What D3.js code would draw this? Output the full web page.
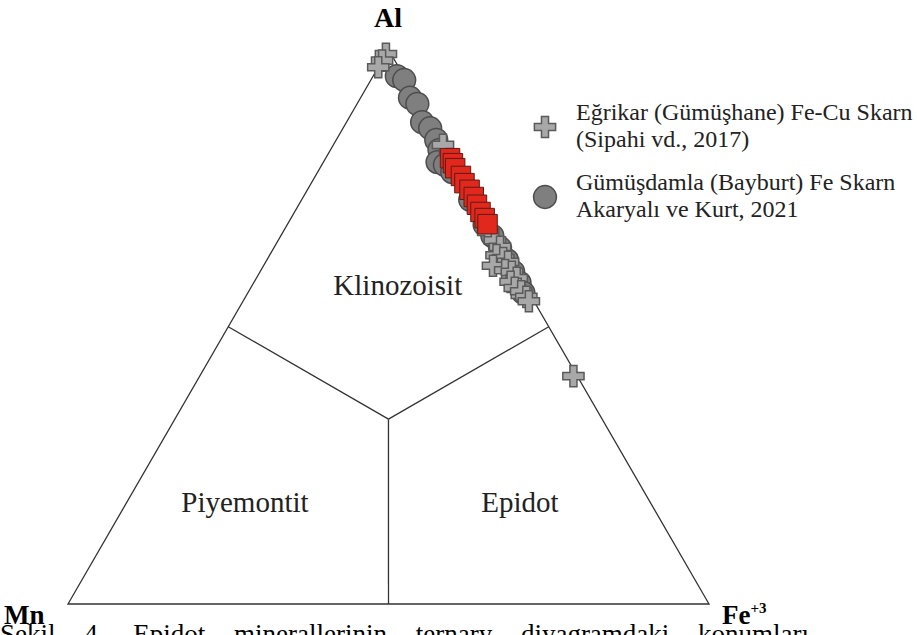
<!DOCTYPE html>
<html>
<head>
<meta charset="utf-8">
<script src="https://cdn.jsdelivr.net/npm/d3@7"></script>
<style>
  body { margin: 0; background: #fff; }
  svg text { font-family: "Liberation Serif", serif; }
</style>
</head>
<body>
<div id="chart"></div>
<script>
"use strict";

// compositions in % : [Al, Fe+3, Mn]
const egrikar = [
  [99.2, 0, 0.8], [98.0, 0, 2.0], [96.8, 0, 3.2], [82.8, 17.1, 0.1],
  [67.1, 32.0, 0.9], [65.6, 33.8, 0.6], [64.4, 35.2, 0.4], [62.9, 35.4, 1.7],
  [62.4, 36.7, 0.9], [61.7, 37.8, 0.5], [61.0, 35.8, 3.2], [60.2, 38.1, 1.7],
  [59.9, 39.3, 0.8], [58.8, 40.6, 0.6], [58.1, 40.0, 1.9], [57.0, 41.2, 1.8],
  [56.4, 42.5, 1.1], [55.4, 43.8, 0.8], [54.6, 44.6, 0.8], [41.1, 58.3, 0.6]
];

const gumusdamla = [
  [95.2, 3.7, 1.1], [94.5, 5.2, 0.3], [91.3, 7.7, 1.0], [90.2, 9.4, 0.4],
  [86.9, 11.8, 1.3], [85.8, 13.6, 0.6], [83.7, 15.6, 0.7], [81.9, 17.0, 1.1],
  [79.7, 17.8, 2.5], [79.2, 19.2, 1.6], [77.9, 21.0, 1.1], [72.9, 26.3, 0.8],
  [68.4, 30.8, 0.8], [66.4, 33.0, 0.6], [64.2, 35.3, 0.5], [62.0, 37.5, 0.5],
  [59.9, 39.5, 0.6], [57.9, 41.5, 0.6], [56.1, 43.0, 0.9]
];

const redSamples = [
  [80.4, 19.4, 0.2], [79.5, 20.3, 0.2], [78.6, 21.1, 0.3], [77.2, 22.7, 0.1],
  [75.9, 23.9, 0.2], [74.7, 25.3, 0.0], [73.4, 26.6, 0.0], [72.0, 27.8, 0.2],
  [70.7, 29.0, 0.3], [69.6, 30.2, 0.2], [68.5, 31.2, 0.3]
];

// field boundaries: centroid to side midpoints
const centroid = [33.33, 33.33, 33.34];
const midpoints = [[50, 0, 50], [50, 50, 0], [0, 50, 50]];
const corners = [[100, 0, 0], [0, 100, 0], [0, 0, 100]];

const fieldLabels = [
  { name: "Klinozoisit", comp: [55.7, 23.6, 20.7] },
  { name: "Piyemontit", comp: [16.6, 19.3, 64.1] },
  { name: "Epidot", comp: [16.6, 62.2, 21.2] }
];

const legendItems = [
  { shape: "cross", lines: ["Eğrikar (Gümüşhane) Fe-Cu Skarn", "(Sipahi vd., 2017)"] },
  { shape: "circle", lines: ["Gümüşdamla (Bayburt) Fe Skarn", "Akaryalı ve Kurt, 2021"] }
];

const caption = "Şekil 4.  Epidot minerallerinin ternary diyagramdaki konumları";

const width = 917, height = 635;

const svg = d3.select("#chart").append("svg")
  .attr("width", width)
  .attr("height", height);

// ternary projection through two linear scales
let xScale = d3.scaleLinear().domain([0, 100]).range([68, 709]);
let yScale = d3.scaleLinear().domain([0, 100]).range([604, 49.5]);

function px(c) { return xScale(c[1] + c[0] / 2); }
function py(c) { return yScale(c[0]); }

// triangle
svg.append("path")
  .attr("d", d3.line().x(px).y(py)(corners.concat([corners[0]])))
  .attr("fill", "none")
  .attr("stroke", "#333")
  .attr("stroke-width", 1.3);

// field boundaries
svg.selectAll(".boundary").data(midpoints).enter()
  .append("line")
  .attr("class", "boundary")
  .attr("x1", px(centroid)).attr("y1", py(centroid))
  .attr("x2", d => px(d)).attr("y2", d => py(d))
  .attr("stroke", "#333")
  .attr("stroke-width", 1.3);

// field names
svg.selectAll(".field").data(fieldLabels).enter()
  .append("text")
  .attr("class", "field")
  .attr("x", d => px(d.comp))
  .attr("y", d => py(d.comp))
  .attr("text-anchor", "middle")
  .style("font-size", "29px")
  .style("fill", "#222")
  .text(d => d.name);

// data points: circles first, then crosses, red squares on top
let circleSym = d3.symbol().type(d3.symbolCircle).size(410);
let crossSym = d3.symbol().type(d3.symbolCross).size(250);
let squareSym = d3.symbol().type(d3.symbolSquare).size(380);

svg.selectAll(".gum").data(gumusdamla).enter()
  .append("path")
  .attr("class", "gum")
  .attr("d", circleSym)
  .attr("transform", d => `translate(${px(d)},${py(d)})`)
  .style("fill", "#7f7f7f")
  .style("stroke", "#4d4d4d")
  .style("stroke-width", 1.5);

svg.selectAll(".egr").data(egrikar).enter()
  .append("path")
  .attr("class", "egr")
  .attr("d", crossSym)
  .attr("transform", d => `translate(${px(d)},${py(d)})`)
  .style("fill", "#a8a8a8")
  .style("stroke", "#5a5a5a")
  .style("stroke-width", 1.5);

svg.selectAll(".red").data(redSamples).enter()
  .append("path")
  .attr("class", "red")
  .attr("d", squareSym)
  .attr("transform", d => `translate(${px(d)},${py(d)})`)
  .style("fill", "#e2281c")
  .style("stroke", "#5a1c14")
  .style("stroke-width", 1);

// legend
let legend = svg.append("g").attr("transform", "translate(545,0)");
legendItems.forEach((item, i) => {
  let cy = 127 + i * 70;
  legend.append("path")
    .attr("d", item.shape == "cross" ? crossSym() : circleSym())
    .attr("transform", `translate(0,${cy})`)
    .style("fill", item.shape == "cross" ? "#a8a8a8" : "#7f7f7f")
    .style("stroke", item.shape == "cross" ? "#5a5a5a" : "#4d4d4d")
    .style("stroke-width", 1.5);
  item.lines.forEach((t, j) => {
    legend.append("text")
      .attr("x", 31)
      .attr("y", cy - 7 + j * 27)
      .style("font-size", "24px")
      .style("fill", "#222")
      .text(t);
  });
});

// vertex labels
svg.append("text")
  .attr("x", 388).attr("y", 27)
  .attr("text-anchor", "middle")
  .style("font-size", "28px").style("font-weight", "bold")
  .text("Al");

svg.append("text")
  .attr("x", 4).attr("y", 624)
  .style("font-size", "27px").style("font-weight", "bold")
  .text("Mn");

let fe = svg.append("text")
  .attr("x", 722).attr("y", 624)
  .style("font-size", "27px").style("font-weight", "bold");
fe.append("tspan").text("Fe");
fe.append("tspan").attr("dy", -11).style("font-size", "15px").text("+3");

// caption (cut by the bottom edge), wide justified word gaps
svg.append("text")
  .attr("x", 0).attr("y", 643)
  .style("font-size", "27px")
  .style("word-spacing", "22px")
  .text(caption);
</script>
</body>
</html>
